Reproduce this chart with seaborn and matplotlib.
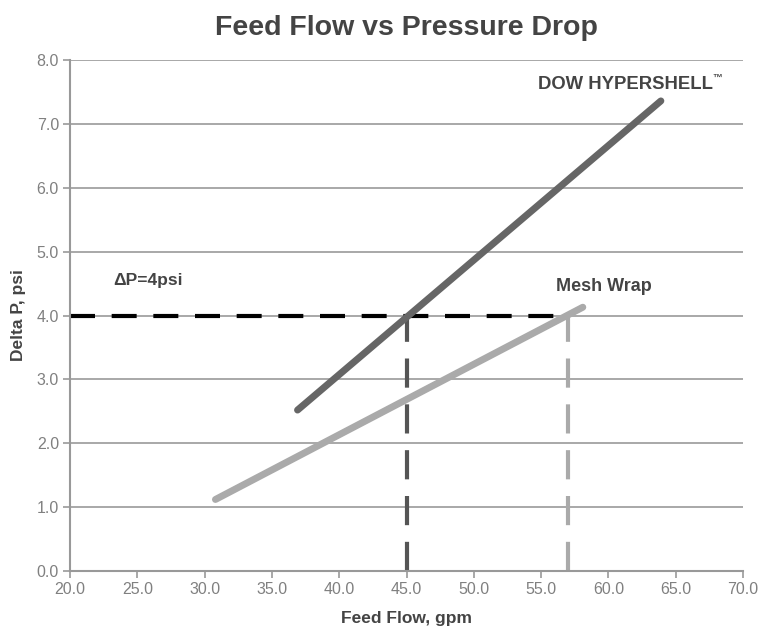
import pandas as pd
import matplotlib.pyplot as plt
import seaborn as sns

# Values
dow_flow = [36.9, 63.9]
dow_dp = [2.52, 7.36]
mesh_flow = [30.8, 58.1]
mesh_dp = [1.12, 4.13]

target_dp = 4.0
dow_flow_at_target = 45.0
mesh_flow_at_target = 57.0

x_ticks = [20, 25, 30, 35, 40, 45, 50, 55, 60, 65, 70]
y_ticks = [0, 1, 2, 3, 4, 5, 6, 7, 8]

dow = pd.DataFrame({"flow": dow_flow, "dp": dow_dp})
mesh = pd.DataFrame({"flow": mesh_flow, "dp": mesh_dp})

sns.set_style("white")
plt.rcParams["font.family"] = ["Liberation Sans", "DejaVu Sans"]

fig = plt.figure(figsize=(7.62, 6.32), dpi=100)
ax = fig.add_axes([0.092, 0.0965, 0.883, 0.8085])

# Gridlines
for y in y_ticks[1:]:
    ax.axhline(y, color="#999999", lw=1.2, zorder=0)

# Reference dashed lines
ax.plot([20, mesh_flow_at_target], [target_dp, target_dp], color="black",
        lw=3, dashes=(6, 4), zorder=2)
ax.plot([dow_flow_at_target, dow_flow_at_target], [0, target_dp], color="#555555",
        lw=3, dashes=(7, 4), zorder=2)
ax.plot([mesh_flow_at_target, mesh_flow_at_target], [0, target_dp], color="#aaaaaa",
        lw=3, dashes=(7, 4), zorder=2)

# Main lines
sns.lineplot(data=dow, x="flow", y="dp", ax=ax, color="#666666", lw=5,
             solid_capstyle="round", zorder=3)
sns.lineplot(data=mesh, x="flow", y="dp", ax=ax, color="#aaaaaa", lw=5,
             solid_capstyle="round", zorder=3)

ax.set_xlim(20, 70)
ax.set_ylim(0, 8)
ax.set_xticks(x_ticks)
ax.set_yticks(y_ticks)
ax.set_xticklabels([f"{v:.1f}" for v in x_ticks])
ax.set_yticklabels([f"{v:.1f}" for v in y_ticks])
ax.tick_params(axis="both", direction="out", length=5, width=1.2, color="#999999",
               labelcolor="#808080", labelsize=11.5, bottom=True, left=True, pad=3)

for side in ["top", "right"]:
    ax.spines[side].set_visible(False)
for side in ["left", "bottom"]:
    ax.spines[side].set_color("#999999")
    ax.spines[side].set_linewidth(1.5)

ax.set_xlabel("Feed Flow, gpm", fontsize=12.5, fontweight="bold", color="#444444",
              labelpad=10)
ax.set_ylabel("Delta P, psi", fontsize=12.5, fontweight="bold", color="#444444",
              labelpad=8)
ax.set_title("Feed Flow vs Pressure Drop", fontsize=20.5, fontweight="bold",
             color="#444444", pad=18)

ax.text(54.8, 7.55, "DOW HYPERSHELL", fontsize=13.3, fontweight="bold", color="#444444")
ax.text(67.75, 7.68, "\u2122", fontsize=7, fontweight="bold", color="#444444")
ax.text(23.2, 4.48, "\u0394P=4psi", fontsize=12.5, fontweight="bold", color="#444444")
ax.text(56.1, 4.38, "Mesh Wrap", fontsize=13, fontweight="bold", color="#444444")

plt.savefig("out.png", dpi=100)
plt.close()
